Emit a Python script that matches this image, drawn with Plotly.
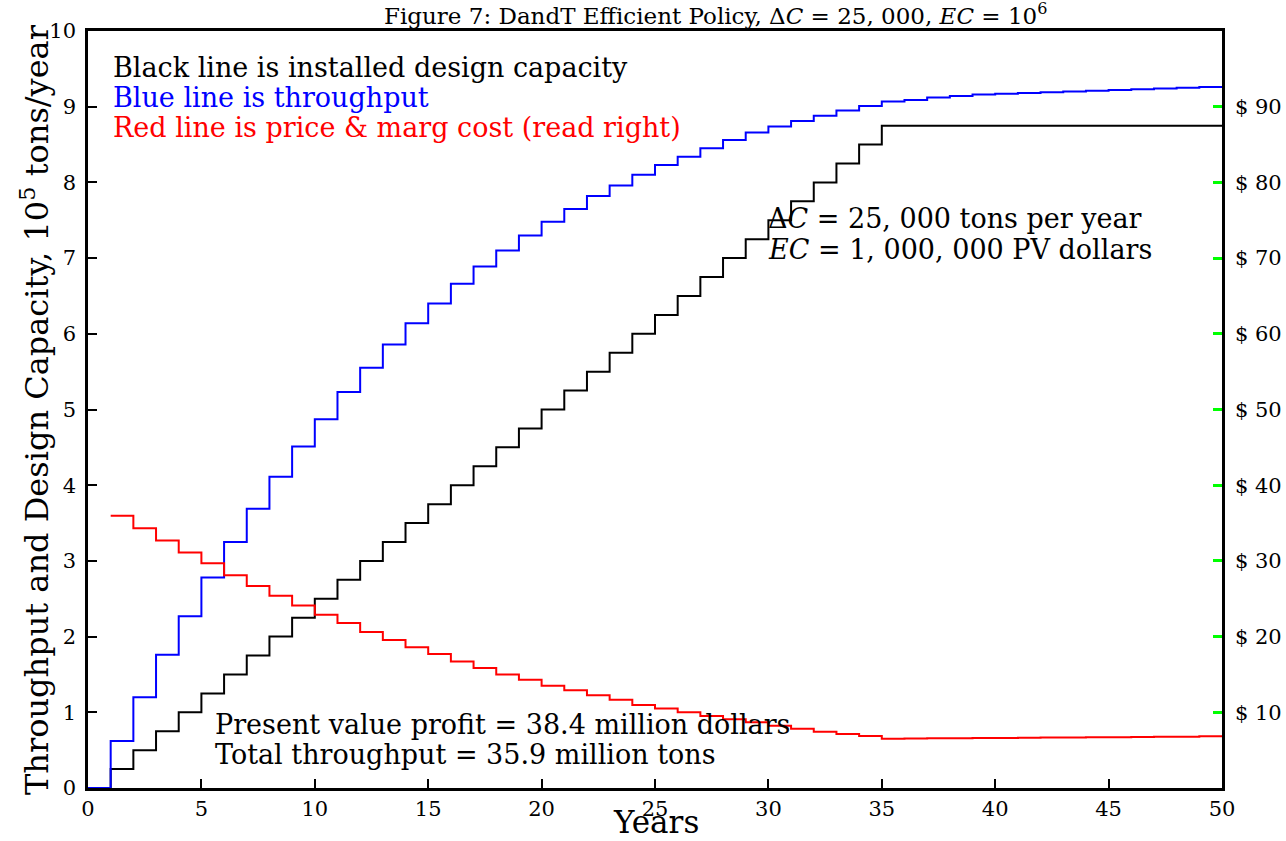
import plotly.graph_objects as go

# Years 0..49; each value holds for the interval [year, year + 1]
years = list(range(0, 50))

# Installed design capacity, 10^5 tons/year
capacity = [0.0] + [0.25 * k for k in range(1, 35)] + [8.75] * 15

# Throughput, 10^5 tons/year
throughput = [
    0.0, 0.62, 1.20, 1.76, 2.27, 2.78, 3.25, 3.69, 4.11, 4.51,
    4.87, 5.23, 5.55, 5.86, 6.14, 6.40, 6.66, 6.89, 7.10, 7.30,
    7.48, 7.65, 7.82, 7.96, 8.10, 8.23, 8.34, 8.45, 8.56, 8.66,
    8.74, 8.81, 8.88, 8.95, 9.01, 9.07, 9.09, 9.12, 9.14, 9.16,
    9.17, 9.18, 9.19, 9.20, 9.21, 9.22, 9.23, 9.24, 9.25, 9.26,
]

# Price & marginal cost, dollars (right axis), from year 1
price_years = list(range(1, 50))
price = [
    35.97, 34.3, 32.7, 31.1, 29.7, 28.1, 26.7, 25.4, 24.1, 22.9,
    21.8, 20.6, 19.55, 18.6, 17.7, 16.7, 15.85, 15.0, 14.3, 13.5,
    12.9, 12.25, 11.65, 10.96, 10.5, 10.0, 9.5, 9.07, 8.68, 8.23,
    7.84, 7.44, 7.13, 6.87, 6.52, 6.54, 6.56, 6.58, 6.60, 6.62,
    6.64, 6.66, 6.68, 6.70, 6.72, 6.74, 6.76, 6.78, 6.85,
]

left_ticks = list(range(0, 11))
x_ticks = list(range(0, 51, 5))
right_ticks = list(range(10, 100, 10))
right_labels = ["$ %d" % v for v in right_ticks]

FONT = "DejaVu Serif"

# plot area in pixels
L, R, T, B = 88, 1222, 31, 788


def close(xs, ys):
    # extend the last step to the end of the horizon
    return xs + [50], ys + [ys[-1]]


fig = go.Figure()

cx, cy = close(years, capacity)
fig.add_trace(go.Scatter(x=cx, y=cy, mode="lines", line_shape="hv",
                         line=dict(color="black", width=2), showlegend=False))
tx, ty = close(years, throughput)
fig.add_trace(go.Scatter(x=tx, y=ty, mode="lines", line_shape="hv",
                         line=dict(color="#0000ff", width=2), showlegend=False))
px_, py_ = close(price_years, price)
fig.add_trace(go.Scatter(x=px_, y=py_, mode="lines", line_shape="hv", yaxis="y2",
                         line=dict(color="#ff0000", width=2), showlegend=False))

tick_font = dict(family=FONT, size=21, color="black")

fig.update_layout(
    width=1286, height=841,
    margin=dict(l=L, r=1286 - R, t=T, b=841 - B, autoexpand=False),
    paper_bgcolor="white", plot_bgcolor="white",
    xaxis=dict(range=[0, 50], tickvals=x_ticks, ticks="inside", ticklen=9,
               tickwidth=2, tickcolor="black", showline=True, linewidth=2.5,
               linecolor="black", mirror=True, showgrid=False, zeroline=False,
               tickfont=tick_font, automargin=False),
    yaxis=dict(range=[0, 10], tickvals=left_ticks, ticks="inside", ticklen=9,
               tickwidth=2, tickcolor="black", showline=True, linewidth=2.5,
               linecolor="black", showgrid=False, zeroline=False,
               tickfont=tick_font, ticklabelstandoff=5, automargin=False),
    yaxis2=dict(range=[0, 100], tickvals=right_ticks, ticktext=right_labels,
                overlaying="y", side="right", ticks="inside", ticklen=9,
                tickwidth=2.5, tickcolor="#00ff00", showline=True, linewidth=2.5,
                linecolor="black", showgrid=False, zeroline=False,
                tickfont=tick_font, ticklabelstandoff=6, automargin=False),
    font=dict(family=FONT, color="black"),
)

ann = []


def note(text, x, y, size, color="black", xanchor="left", angle=0):
    ann.append(dict(text=text, x=x, y=y, xref="x", yref="y", xanchor=xanchor,
                    yanchor="middle", showarrow=False, textangle=angle,
                    font=dict(family=FONT, size=size, color=color)))


def page_note(text, px, py, size, angle=0):
    # position given in page pixels, converted to plot-domain fractions
    ann.append(dict(text=text, x=(px - L) / (R - L), y=(B - py) / (B - T),
                    xref="paper", yref="paper", xanchor="center", yanchor="middle",
                    showarrow=False, textangle=angle,
                    font=dict(family=FONT, size=size, color="black")))


page_note("Figure 7: DandT Efficient Policy, Δ<i>C</i> = 25, 000, <i>EC</i> = 10<sup>6</sup>",
          715, 14, 23)
note("Black line is installed design capacity", 1.0, 9.52, 27)
note("Blue line is throughput", 1.0, 9.12, 27, color="#0000ff")
note("Red line is price &amp; marg cost (read right)", 1.0, 8.72, 27, color="#ff0000")
note("Δ<i>C</i> = 25, 000 tons per year", 29.9, 7.52, 27)
note("<i>EC</i> = 1, 000, 000 PV dollars", 29.9, 7.12, 27)
note("Present value profit = 38.4 million dollars", 5.5, 0.84, 27)
note("Total throughput = 35.9 million tons", 5.5, 0.44, 27)
page_note("Years", 656, 822, 31)
page_note("Throughput and Design Capacity, 10<sup>5</sup> tons/year", 35, 410, 32, angle=-90)

fig.update_layout(annotations=ann)
fig.write_html("out.html")
